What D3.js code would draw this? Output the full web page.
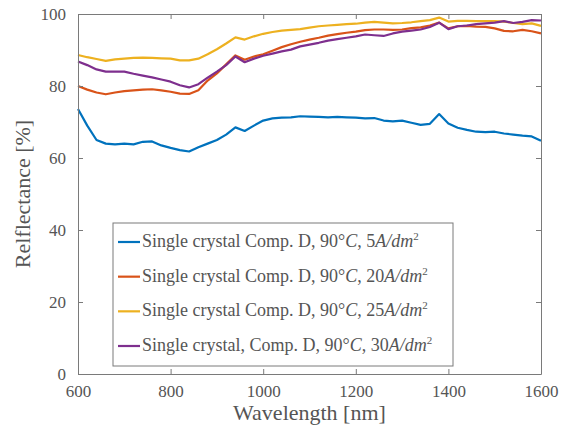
<!DOCTYPE html>
<html><head><meta charset="utf-8">
<script src="https://cdn.jsdelivr.net/npm/d3@7"></script>
</head><body>
<svg id="c" width="563" height="428" style="font-family:Tinos,'Liberation Serif','Times New Roman',serif"></svg>
<script>
const wavelengths = [600,620,640,660,680,700,720,740,760,780,800,820,840,860,880,900,920,940,960,980,1000,1020,1040,1060,1080,1100,1120,1140,1160,1180,1200,1220,1240,1260,1280,1300,1320,1340,1360,1380,1400,1420,1440,1460,1480,1500,1520,1540,1560,1580,1600];
const refl5A = [73.6,69,65,64,63.8,64,63.8,64.5,64.6,63.5,62.8,62.2,61.8,63,64,65,66.5,68.5,67.5,69,70.4,71,71.2,71.3,71.6,71.5,71.4,71.3,71.4,71.3,71.2,71,71.1,70.4,70.2,70.4,69.8,69.2,69.5,72.2,69.6,68.4,67.8,67.3,67.2,67.3,66.8,66.5,66.2,66,64.8];
const refl20A = [80,79,78.2,77.7,78.2,78.6,78.8,79,79.1,78.8,78.4,77.9,77.8,78.8,81.5,83.5,86,88.5,87.3,88.2,88.8,89.8,90.8,91.6,92.3,92.9,93.4,94,94.4,94.8,95.1,95.5,95.7,95.7,95.6,95.7,96.1,96.3,96.8,97.6,96,96.6,96.7,96.5,96.4,96,95.3,95.2,95.6,95.2,94.6];
const refl25A = [88.6,88,87.5,87,87.4,87.6,87.8,87.9,87.8,87.7,87.6,87.1,87.1,87.6,88.8,90.2,91.8,93.5,92.9,93.8,94.5,95,95.4,95.6,95.8,96.2,96.6,96.8,97,97.2,97.3,97.6,97.8,97.6,97.4,97.5,97.7,98,98.3,99,97.9,98.1,98.1,98,98,98,97.9,97.5,97.2,97.4,96.7];
const refl30A = [86.8,85.8,84.6,84,84,84,83.4,82.9,82.4,81.8,81.2,80.2,79.6,80.5,82.3,84,85.8,88.2,86.6,87.6,88.4,89,89.6,90.1,91,91.5,92,92.6,93,93.4,93.8,94.3,94.1,93.9,94.6,95.1,95.4,95.7,96.4,97.6,95.8,96.6,96.8,97.2,97.4,97.6,98,97.5,97.8,98.3,98.2];
const seriesValues = [refl5A, refl20A, refl25A, refl30A];
const seriesColors = ["#0072BD","#D95319","#EDB120","#7E2F8E"];
const legendPrefix = ["Single crystal Comp. D, 90°","Single crystal Comp. D, 90°","Single crystal Comp. D, 90°","Single crystal, Comp. D, 90°"];
const legendCurrent = ["5","20","25","30"];
const xTicks = [600,800,1000,1200,1400,1600];
const yTicks = [0,20,40,60,80,100];

d3.select("body").style("margin","0px").style("background","#fff");
const FONT = 'Tinos, "Liberation Serif", "Times New Roman", serif';
function serif(sel, size){ return sel.attr("font-family",FONT).style("font-family",FONT).style("font-size",size); }
const svg = d3.select("#c").style("display","block");
const L=78, R=541, T=14, B=374;
const x = d3.scaleLinear().domain([600,1600]).range([L,R]);
const y = d3.scaleLinear().domain([0,100]).range([B,T]);
const axisCol="#7a7a7a", textCol="#555";

// lines
const line = d3.line().x((d,i)=>x(wavelengths[i])).y(d=>y(d));
seriesValues.forEach((vals,k)=>{
  svg.append("path").attr("d",line(vals)).attr("fill","none")
    .attr("stroke",seriesColors[k]).attr("stroke-width",2.2).attr("stroke-linejoin","round");
});

// axes
function styleAxis(g){
  g.attr("font-family",FONT);
  g.select(".domain").attr("stroke",axisCol).attr("stroke-width",1);
  g.selectAll(".tick line").attr("stroke",axisCol);
  serif(g.selectAll(".tick text").attr("fill",textCol), "17px");
}
const fmt = d3.format("d");
svg.append("g").attr("transform",`translate(0,${B})`)
  .call(d3.axisBottom(x).tickValues(xTicks).tickFormat(fmt).tickSizeInner(-5).tickSizeOuter(0).tickPadding(11))
  .call(styleAxis);
svg.append("g").attr("transform",`translate(0,${T})`)
  .call(d3.axisTop(x).tickValues(xTicks).tickSizeInner(-5).tickSizeOuter(0).tickFormat(""))
  .call(styleAxis);
svg.append("g").attr("transform",`translate(${L},0)`)
  .call(d3.axisLeft(y).tickValues(yTicks).tickFormat(fmt).tickSizeInner(-5).tickSizeOuter(0).tickPadding(12))
  .call(styleAxis);
svg.append("g").attr("transform",`translate(${R},0)`)
  .call(d3.axisRight(y).tickValues(yTicks).tickSizeInner(-5).tickSizeOuter(0).tickFormat(""))
  .call(styleAxis);

// axis titles
serif(svg.append("text").attr("x",(L+R)/2).attr("y",420).attr("text-anchor","middle"),"22px")
  .attr("fill",textCol).text("Wavelength [nm]");
serif(svg.append("text").attr("transform",`translate(30,${(T+B)/2}) rotate(-90)`).attr("text-anchor","middle"),"22px")
  .attr("fill",textCol).text("Relflectance [%]");

// legend
const lg = svg.append("g");
lg.append("rect").attr("x",113).attr("y",223).attr("width",340).attr("height",143)
  .attr("fill","#fff").attr("stroke",axisCol).attr("stroke-width",1);
const ly = d3.scalePoint().domain(d3.range(4)).range([242,346]);
legendCurrent.forEach((c,i)=>{
  const yy = ly(i);
  lg.append("line").attr("x1",118).attr("x2",140).attr("y1",yy).attr("y2",yy)
    .attr("stroke",seriesColors[i]).attr("stroke-width",2.2);
  const t = serif(lg.append("text").attr("x",142).attr("y",yy+5),"18px").attr("fill",textCol);
  t.append("tspan").text(legendPrefix[i]);
  t.append("tspan").style("font-style","italic").text("C");
  t.append("tspan").text(", "+c);
  t.append("tspan").style("font-style","italic").text("A/dm");
  t.append("tspan").style("font-size","11px").attr("dy",-7).text("2");
});
</script>
</body></html>
